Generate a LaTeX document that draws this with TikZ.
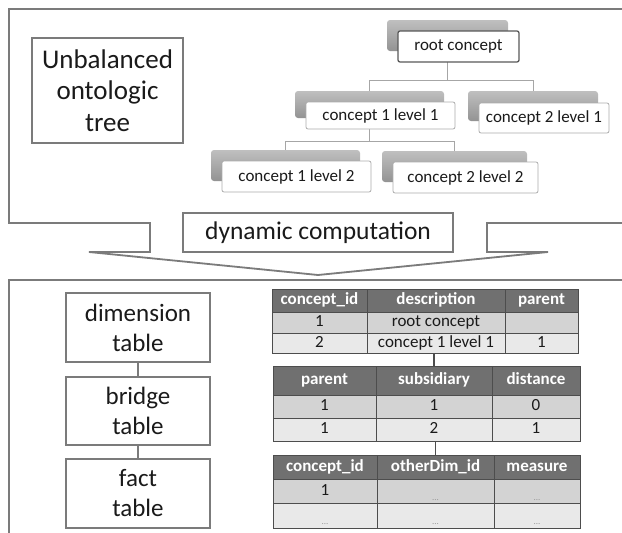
\documentclass[tikz,border=0pt]{standalone}
\usepackage{fontspec}
\setmainfont{Carlito}
\usetikzlibrary{backgrounds}
\definecolor{framegray}{HTML}{7B7B7B}
\definecolor{cellline}{HTML}{4D4D4D}
\definecolor{headfill}{HTML}{707070}
\definecolor{rowdark}{HTML}{D3D3D3}
\definecolor{rowlight}{HTML}{E9E9E9}
\definecolor{inkgray}{HTML}{1A1A1A}
\newcommand\celldots{\smash{\raisebox{-5pt}{\fontsize{9}{9}\selectfont\color{gray!80}...}}}

\begin{document}
\begin{tikzpicture}[x=1pt,y=-1pt,
  frame/.style={draw=framegray,line width=1.8pt},
  label/.style={draw=framegray,line width=1.8pt,fill=white,align=center,inner sep=0pt,text=inkgray,font=\fontsize{25}{30}\selectfont},
  back/.style={rounded corners=3pt,top color=gray!50,bottom color=gray!85,inner sep=0pt},
  front/.style={draw=gray!65,line width=0.8pt,rounded corners=2pt,fill=white,inner sep=0pt,text=inkgray,font=\fontsize{17}{20}\selectfont},
  link/.style={draw=gray!70,line width=1pt},
  hcell/.style={draw=cellline,fill=headfill,line width=1pt,inner sep=0pt,text height=12pt,text depth=4pt,text=white,font=\bfseries\fontsize{17}{20}\selectfont},
  dcell/.style={draw=cellline,line width=1pt,inner sep=0pt,text height=12pt,text depth=4pt,text=inkgray,font=\fontsize{17}{20}\selectfont}
]
\useasboundingbox (0,0) rectangle (622,533);

% frames with the arrow between them
\draw[frame] (626,9) -- (9,9) -- (9,223) -- (150,223) -- (150,252) -- (89,252)
  -- (318,275) -- (548,252) -- (487,252) -- (487,223) -- (626,223);
\draw[frame] (626,280) -- (9,280) -- (9,537);

\node[label,minimum width=151,minimum height=105,font=\fontsize{27}{31.5}\selectfont] (tree) at (107.5,90.5) {Unbalanced\\ontologic\\tree};
\node[label,minimum width=270,minimum height=39,font=\fontsize{25.5}{30}\selectfont] (dyn) at (318,232.5) {dynamic computation};

% ontologic tree
\node[back,minimum width=121,minimum height=31] (rootbk) at (447.5,35.5) {};
\node[front,draw=black!65,line width=1.3pt,minimum width=121,minimum height=31,xshift=11pt,yshift=-11pt] (root) at (rootbk) {root concept};
\node[back,minimum width=149,minimum height=27] (c1l1bk) at (369.5,104.5) {};
\node[front,minimum width=149,minimum height=27,xshift=11pt,yshift=-11pt] (c1l1) at (c1l1bk) {concept 1 level 1};
\node[back,minimum width=130,minimum height=30] (c2l1bk) at (533,106) {};
\node[front,minimum width=130,minimum height=30,xshift=11pt,yshift=-12pt] (c2l1) at (c2l1bk) {concept 2 level 1};
\node[back,minimum width=149,minimum height=31] (c1l2bk) at (285.5,165.5) {};
\node[front,minimum width=149,minimum height=31,xshift=11pt,yshift=-11pt] (c1l2) at (c1l2bk) {concept 1 level 2};
\node[back,minimum width=145,minimum height=31] (c2l2bk) at (454.5,166.5) {};
\node[front,minimum width=145,minimum height=31,xshift=11pt,yshift=-11pt] (c2l2) at (c2l2bk) {concept 2 level 2};
\coordinate (fork1) at (0,80);
\coordinate (fork2) at (0,141);
\begin{scope}[on background layer]
\draw[link] (rootbk.center) -- (rootbk.center |- fork1) -| (c1l1bk.center);
\draw[link] (rootbk.center |- fork1) -| (c2l1bk.center);
\draw[link] (c1l1bk.center) -- (c1l1bk.center |- fork2) -| (c1l2bk.center);
\draw[link] (c1l1bk.center |- fork2) -| (c2l2bk.center);
\end{scope}

% star schema boxes
\node[label,minimum width=144,minimum height=69] (dim) at (138,327.5) {dimension\\table};
\node[label,minimum width=144,minimum height=68] (bridge) at (138,411) {bridge\\table};
\node[label,minimum width=144,minimum height=69] (fact) at (138,493.5) {fact\\table};
\draw[frame] (dim) -- (bridge);
\draw[frame] (bridge) -- (fact);

% dimension table
\foreach \col/\x/\w/\txt in {1/319.5/95/concept\_id,2/436/138/description,3/541.5/73/parent}
  \node[hcell,minimum width=\w,minimum height=23] (ta-0-\col) at (\x,300.5) {\txt};
\foreach \col/\x/\w/\txt in {1/319.5/95/1,2/436/138/root concept,3/541.5/73/{}}
  \node[dcell,fill=rowdark,minimum width=\w,minimum height=21] (ta-1-\col) at (\x,322.5) {\txt};
\foreach \col/\x/\w/\txt in {1/319.5/95/2,2/436/138/concept 1 level 1,3/541.5/73/1}
  \node[dcell,fill=rowlight,minimum width=\w,minimum height=20] (ta-2-\col) at (\x,343) {\txt};

% bridge table
\foreach \col/\x/\w/\txt in {1/324.5/103/parent,2/434/116/subsidiary,3/536/88/distance}
  \node[hcell,minimum width=\w,minimum height=29] (tb-0-\col) at (\x,380.5) {\txt};
\foreach \col/\x/\w/\txt in {1/324.5/103/1,2/434/116/1,3/536/88/0}
  \node[dcell,fill=rowdark,minimum width=\w,minimum height=23] (tb-1-\col) at (\x,406.5) {\txt};
\foreach \col/\x/\w/\txt in {1/324.5/103/1,2/434/116/2,3/536/88/1}
  \node[dcell,fill=rowlight,minimum width=\w,minimum height=23] (tb-2-\col) at (\x,429.5) {\txt};

% fact table
\foreach \col/\x/\w/\txt in {1/325/104/concept\_id,2/435.5/117/otherDim\_id,3/537/86/measure}
  \node[hcell,minimum width=\w,minimum height=24] (tc-0-\col) at (\x,467) {\txt};
\foreach \col/\x/\w/\txt in {1/325/104/1,2/435.5/117/\celldots,3/537/86/\celldots}
  \node[dcell,fill=rowdark,minimum width=\w,minimum height=24] (tc-1-\col) at (\x,491) {\txt};
\foreach \col/\x/\w/\txt in {1/325/104/\celldots,2/435.5/117/\celldots,3/537/86/\celldots}
  \node[dcell,fill=rowlight,minimum width=\w,minimum height=25] (tc-2-\col) at (\x,515.5) {\txt};

\draw[cellline,line width=1.5pt] (tb-0-2.north) -- (tb-0-2.north |- ta-2-2.south);
\draw[cellline,line width=1.5pt] (tc-0-2.north) -- (tc-0-2.north |- tb-2-2.south);
\end{tikzpicture}
\end{document}
